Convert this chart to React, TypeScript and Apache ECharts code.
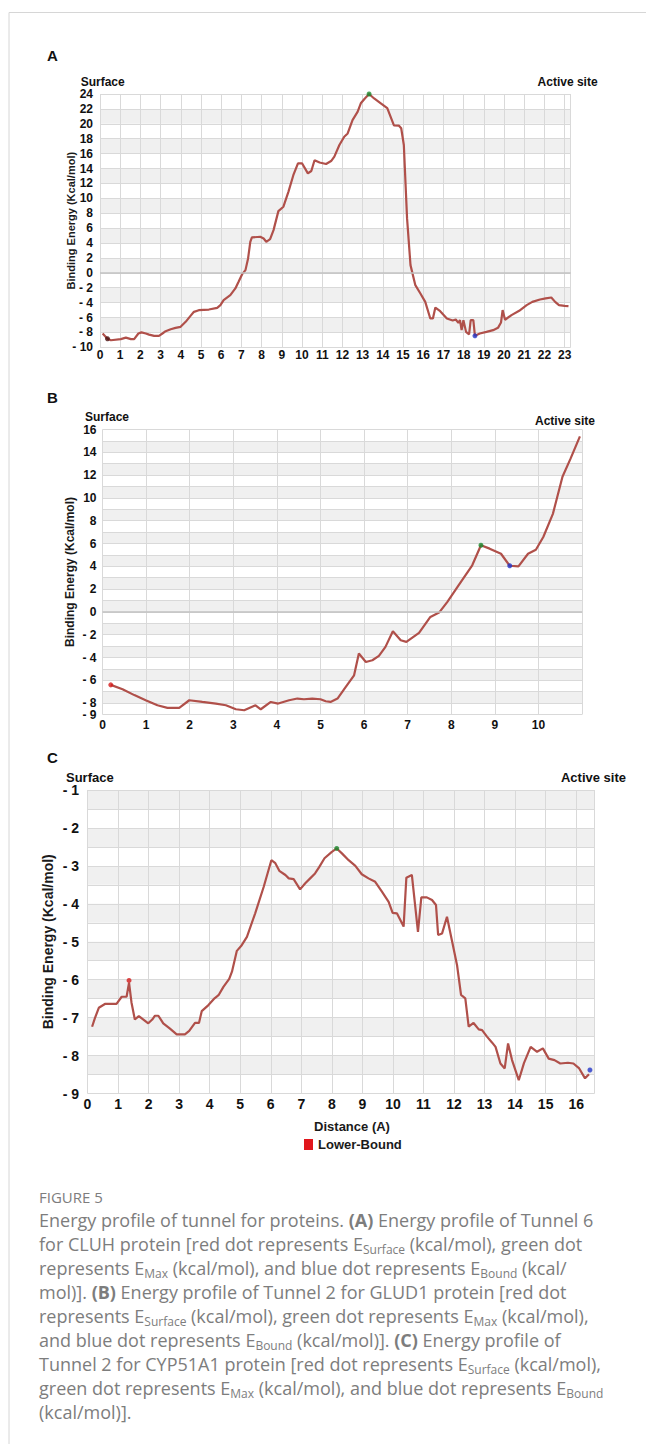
import React, { useEffect, useRef } from "react";
import * as echarts from "echarts";

const FONT = '"Liberation Sans", Arial, Helvetica, sans-serif';
const CAPTION_FONT = '"Open Sans", "Noto Sans", sans-serif';
const LINE_COLOR = "#b0504a";
const GRID_COLOR = "#d9d9d9";
const BAND_COLOR = "#f0f0f0";

// ---------- Panel A : Tunnel 6, CLUH ----------
const tunnelA: number[][] = [
  [0.13, -8.15], [0.37, -8.85], [0.54, -9.05], [1.03, -8.9], [1.28, -8.7], [1.53, -8.9],
  [1.69, -8.9], [1.9, -8.15], [2.05, -8.0], [2.27, -8.15], [2.43, -8.3], [2.68, -8.46],
  [2.92, -8.46], [3.09, -8.15], [3.25, -7.84], [3.5, -7.57], [3.74, -7.39], [3.99, -7.25],
  [4.24, -6.58], [4.48, -5.78], [4.65, -5.24], [4.89, -5.02], [5.39, -4.93], [5.8, -4.7],
  [5.96, -4.34], [6.12, -3.67], [6.45, -3.0], [6.7, -2.1], [6.86, -1.2], [7.03, -0.22],
  [7.2, 0.36], [7.33, 1.93], [7.44, 4.16], [7.52, 4.75], [7.93, 4.84], [8.1, 4.6],
  [8.23, 4.16], [8.42, 4.52], [8.59, 5.73], [8.83, 8.28], [9.08, 8.87], [9.33, 10.9],
  [9.57, 13.1], [9.8, 14.7], [10.0, 14.7], [10.29, 13.35], [10.46, 13.66], [10.62, 15.1],
  [10.87, 14.8], [11.19, 14.6], [11.44, 15.0], [11.6, 15.6], [11.85, 17.15], [12.09, 18.27],
  [12.26, 18.7], [12.5, 20.5], [12.75, 21.6], [12.91, 22.75], [13.11, 23.4], [13.32, 24.0],
  [13.57, 23.4], [13.9, 22.75], [14.22, 22.1], [14.55, 19.8], [14.8, 19.75], [14.91, 19.4],
  [15.04, 17.15], [15.2, 7.3], [15.37, 1.03], [15.61, -1.66], [15.86, -2.78], [16.1, -3.9],
  [16.35, -6.13], [16.48, -6.13], [16.6, -4.66], [16.84, -5.15], [17.17, -6.13], [17.46, -6.4],
  [17.61, -6.27], [17.74, -6.72], [17.82, -6.36], [17.9, -7.7], [17.99, -6.36], [18.12, -7.93],
  [18.27, -8.28], [18.35, -6.36], [18.48, -6.36], [18.56, -8.46], [18.8, -8.15], [19.13, -7.93],
  [19.46, -7.7], [19.7, -7.39], [19.85, -6.67], [19.93, -5.0], [20.05, -6.3], [20.37, -5.68],
  [20.75, -5.1], [21.12, -4.34], [21.4, -3.9], [21.78, -3.58], [22.06, -3.44], [22.34, -3.31],
  [22.53, -3.9], [22.72, -4.34], [23.0, -4.43], [23.19, -4.47],
];
const dotsA: number[][] = [[0.37, -8.85], [13.32, 24.0], [18.56, -8.46]];

// ---------- Panel B : Tunnel 2, GLUD1 ----------
const tunnelB: number[][] = [
  [0.19, -6.4], [0.46, -6.78], [0.73, -7.3], [0.99, -7.75], [1.26, -8.19], [1.49, -8.42],
  [1.76, -8.42], [1.99, -7.75], [2.29, -7.9], [2.6, -8.04], [2.83, -8.19], [3.06, -8.54],
  [3.25, -8.63], [3.51, -8.19], [3.63, -8.54], [3.86, -7.9], [4.03, -8.04], [4.28, -7.75],
  [4.47, -7.6], [4.62, -7.66], [4.81, -7.6], [5.0, -7.66], [5.12, -7.84], [5.23, -7.9],
  [5.39, -7.6], [5.58, -6.58], [5.77, -5.56], [5.88, -3.65], [6.04, -4.39], [6.19, -4.24],
  [6.34, -3.86], [6.49, -3.07], [6.66, -1.7], [6.84, -2.49], [6.97, -2.63], [7.26, -1.84],
  [7.52, -0.44], [7.72, -0.06], [7.91, 0.88], [8.17, 2.34], [8.48, 4.09], [8.68, 5.85],
  [8.88, 5.55], [9.14, 5.1], [9.34, 4.05], [9.54, 4.0], [9.76, 5.1], [9.94, 5.45],
  [10.11, 6.57], [10.33, 8.6], [10.55, 11.85], [10.73, 13.4], [10.95, 15.4],
];
const dotsB: number[][] = [[0.19, -6.4], [8.68, 5.85], [9.34, 4.05]];

// ---------- Panel C : Tunnel 2, CYP51A1 ----------
const tunnelC: number[][] = [
  [0.15, -7.24], [0.24, -7.02], [0.37, -6.74], [0.57, -6.64], [0.95, -6.64], [1.12, -6.45],
  [1.28, -6.45], [1.36, -6.08], [1.44, -6.6], [1.55, -7.05], [1.68, -6.96], [1.83, -7.05],
  [1.99, -7.15], [2.12, -7.05], [2.21, -6.95], [2.32, -6.95], [2.48, -7.15], [2.7, -7.29],
  [2.92, -7.44], [3.19, -7.44], [3.33, -7.35], [3.52, -7.14], [3.65, -7.14], [3.74, -6.83],
  [3.96, -6.67], [4.16, -6.49], [4.29, -6.41], [4.45, -6.19], [4.64, -5.98], [4.73, -5.79],
  [4.89, -5.24], [5.05, -5.09], [5.22, -4.87], [5.49, -4.25], [5.77, -3.55], [6.02, -2.85],
  [6.15, -2.93], [6.28, -3.13], [6.48, -3.24], [6.59, -3.33], [6.75, -3.35], [6.96, -3.62],
  [7.13, -3.46], [7.29, -3.33], [7.45, -3.2], [7.58, -3.04], [7.76, -2.8], [8.0, -2.63],
  [8.16, -2.54], [8.33, -2.67], [8.55, -2.85], [8.77, -3.0], [8.98, -3.22], [9.2, -3.33],
  [9.42, -3.42], [9.64, -3.68], [9.86, -3.95], [9.99, -4.24], [10.13, -4.25], [10.35, -4.6],
  [10.44, -3.31], [10.62, -3.24], [10.82, -4.74], [10.93, -3.83], [11.11, -3.83], [11.28, -3.9],
  [11.41, -4.03], [11.48, -4.82], [11.61, -4.78], [11.77, -4.34], [11.93, -4.96], [12.1, -5.62],
  [12.23, -6.4], [12.37, -6.49], [12.48, -7.24], [12.64, -7.14], [12.81, -7.31], [12.92, -7.33],
  [13.08, -7.5], [13.25, -7.66], [13.36, -7.77], [13.52, -8.21], [13.66, -8.34], [13.77, -7.68],
  [13.9, -8.12], [14.12, -8.65], [14.29, -8.2], [14.51, -7.77], [14.72, -7.9], [14.91, -7.81],
  [15.1, -8.08], [15.29, -8.12], [15.48, -8.21], [15.73, -8.19], [15.91, -8.21], [16.1, -8.34],
  [16.29, -8.6], [16.42, -8.49],
];
const dotsC: number[][] = [[1.36, -6.02], [8.16, -2.54], [16.45, -8.38]];

const dotColors = ["#d41a1a", "#1b8a2e", "#2336c8"];
const dotColorsA = ["#4a1212", "#1b8a2e", "#2336c8"];

// axis ranges / ticks
const xMaxA = 23.3, xMaxB = 11, xMaxC = 16.6;
const xLastLabelA = 23, xLastLabelB = 10, xLastLabelC = 16;

const captionTitle = "FIGURE 5";
const captionLines = [
  "{t|Energy profile of tunnel for proteins. }{b|(A)}{t| Energy profile of Tunnel 6}",
  "{t|for CLUH protein [red dot represents E}{s|Surface}{t| (kcal/mol), green dot}",
  "{t|represents E}{s|Max}{t| (kcal/mol), and blue dot represents E}{s|Bound}{t| (kcal/}",
  "{t|mol)]. }{b|(B)}{t| Energy profile of Tunnel 2 for GLUD1 protein [red dot}",
  "{t|represents E}{s|Surface}{t| (kcal/mol), green dot represents E}{s|Max}{t| (kcal/mol),}",
  "{t|and blue dot represents E}{s|Bound}{t| (kcal/mol)]. }{b|(C)}{t| Energy profile of}",
  "{t|Tunnel 2 for CYP51A1 protein [red dot represents E}{s|Surface}{t| (kcal/mol),}",
  "{t|green dot represents E}{s|Max}{t| (kcal/mol), and blue dot represents E}{s|Bound}",
  "{t|(kcal/mol)].}",
];

const fmtY = (v: number) => (v < 0 ? "- " + Math.abs(v) : String(v));

function xAxisFor(i: number, max: number, fontSize: number, margin: number, last: number, extra: any = {}) {
  return {
    type: "value",
    gridIndex: i,
    min: 0,
    max,
    interval: 1,
    axisLine: { show: false },
    axisTick: { show: false },
    splitLine: { show: true, lineStyle: { color: GRID_COLOR, width: 1 } },
    axisLabel: {
      margin,
      fontSize,
      fontWeight: "bold",
      fontFamily: FONT,
      color: "#111",
      showMinLabel: true,
      showMaxLabel: true,
      hideOverlap: false,
      formatter: (v: number) => (Number.isInteger(v) && v <= last ? String(v) : ""),
    },
    ...extra,
  };
}

function yAxisFor(
  i: number, min: number, max: number, interval: number, fontSize: number, margin: number,
  nameGap: number, nameSize: number, show: (v: number) => boolean, showMin: boolean = true
) {
  return {
    type: "value",
    gridIndex: i,
    min,
    max,
    interval,
    name: "Binding Energy (Kcal/mol)",
    nameLocation: "middle",
    nameRotate: 90,
    nameGap,
    nameMoveOverlap: false,
    nameTextStyle: { fontSize: nameSize, fontWeight: "bold", fontFamily: FONT, color: "#1a1a1a" },
    axisLine: { show: false },
    axisTick: { show: false },
    splitLine: { show: true, lineStyle: { color: GRID_COLOR, width: 1 } },
    splitArea: { show: true, areaStyle: { color: ["rgba(255,255,255,0)", BAND_COLOR] } },
    axisLabel: {
      margin,
      fontSize,
      fontWeight: "bold",
      fontFamily: FONT,
      color: "#111",
      showMinLabel: showMin,
      showMaxLabel: true,
      hideOverlap: false,
      formatter: (v: number) => (show(v) ? fmtY(v) : ""),
    },
  };
}

// extra label-only axis for panel B's bottom "- 9" tick (kept apart so "- 8" is not dropped)
const bottomLabelAxisB = {
  type: "value",
  gridIndex: 1,
  position: "left",
  min: -9,
  max: 16,
  interval: 1,
  axisLine: { show: false },
  axisTick: { show: false },
  splitLine: { show: false },
  splitArea: { show: false },
  axisLabel: {
    margin: 6,
    fontSize: 12,
    fontWeight: "bold",
    fontFamily: FONT,
    color: "#111",
    showMinLabel: true,
    showMaxLabel: false,
    hideOverlap: false,
    formatter: (v: number) => (v === -9 ? fmtY(v) : ""),
  },
};

function lineSeries(i: number, data: number[][], zero: boolean) {
  return {
    type: "line",
    name: "Lower-Bound",
    xAxisIndex: i,
    yAxisIndex: i,
    data,
    showSymbol: false,
    symbol: "none",
    smooth: false,
    silent: true,
    z: 3,
    lineStyle: { color: LINE_COLOR, width: 2.2 },
    itemStyle: { color: LINE_COLOR },
    markLine: zero
      ? {
          silent: true,
          symbol: ["none", "none"],
          label: { show: false },
          lineStyle: { color: "#c2c2c2", width: 1.5, type: "solid" },
          data: [{ yAxis: 0 }],
        }
      : undefined,
  };
}

function dotSeries(i: number, dots: number[][], colors: string[]) {
  return {
    type: "scatter",
    name: "Energy points",
    xAxisIndex: i,
    yAxisIndex: i,
    symbolSize: 5,
    silent: true,
    z: 5,
    data: dots.map((d, k) => ({ value: d, itemStyle: { color: colors[k] } })),
  };
}

function label(text: string, x: number, y: number, size: number, align: string = "left") {
  return {
    type: "text",
    silent: true,
    style: {
      text,
      x,
      y,
      fontSize: size,
      fontWeight: "bold",
      fontFamily: FONT,
      fill: "#111",
      align,
      textAlign: align,
      verticalAlign: "middle",
      textVerticalAlign: "middle",
    },
  };
}

const CAP_SIZE = 18;
const CAP_COLOR = "#7d7d7d";

function buildOption() {
  return {
    animation: false,
    backgroundColor: "#ffffff",
    grid: [
      { left: 100, top: 94, width: 470.7, height: 253.3, outerBoundsMode: "none" },
      { left: 102.5, top: 429.5, width: 479.6, height: 285, outerBoundsMode: "none" },
      { left: 87.5, top: 790, width: 507, height: 303.5, outerBoundsMode: "none" },
    ],
    xAxis: [
      xAxisFor(0, xMaxA, 12, 2, xLastLabelA),
      xAxisFor(1, xMaxB, 12, 4.5, xLastLabelB),
      xAxisFor(2, xMaxC, 14, 3, xLastLabelC, {
        name: "Distance (A)",
        nameLocation: "middle",
        nameGap: 26,
        nameMoveOverlap: false,
        nameTextStyle: {
          fontSize: 13,
          fontWeight: "bold",
          fontFamily: FONT,
          color: "#1a1a1a",
          padding: [0, 0, 0, 22],
        },
      }),
    ],
    yAxis: [
      yAxisFor(0, -10, 24, 2, 12, 7, 23.5, 11, () => true),
      yAxisFor(1, -9, 16, 1, 12, 6, 27, 12, (v) => v % 2 === 0, false),
      yAxisFor(2, -9, -1, 0.5, 14, 8.5, 33, 14, (v) => Number.isInteger(v)),
      bottomLabelAxisB,
    ],
    legend: {
      data: [{ name: "Lower-Bound", icon: "rect", itemStyle: { color: "#e1161c" } }],
      left: 299,
      top: 1133,
      itemWidth: 9,
      itemHeight: 11,
      selectedMode: false,
      textStyle: { fontSize: 13, fontWeight: "bold", fontFamily: FONT, color: "#1a1a1a" },
    },
    series: [
      lineSeries(0, tunnelA, true),
      dotSeries(0, dotsA, dotColorsA),
      lineSeries(1, tunnelB, true),
      dotSeries(1, dotsB, dotColors),
      lineSeries(2, tunnelC, false),
      dotSeries(2, dotsC, dotColors),
    ],
    graphic: [
      {
        type: "line",
        silent: true,
        shape: { x1: 9, y1: 12.5, x2: 646, y2: 12.5 },
        style: { stroke: "#d6d6d6", lineWidth: 1 },
      },
      {
        type: "line",
        silent: true,
        shape: { x1: 9, y1: 12.5, x2: 9, y2: 1444 },
        style: { stroke: "#d6d6d6", lineWidth: 1 },
      },
      label("A", 47, 55, 15),
      label("B", 47, 397, 15),
      label("C", 47, 757, 15),
      label("Surface", 80.7, 82, 12),
      label("Active site", 597.6, 82, 12, "right"),
      label("Surface", 85, 417, 12),
      label("Active site", 595, 421, 12, "right"),
      label("Surface", 66, 777, 13),
      label("Active site", 626, 777, 13, "right"),
      {
        type: "text",
        silent: true,
        style: {
          text: captionTitle,
          x: 39,
          y: 1197,
          fontSize: 15,
          fontFamily: CAPTION_FONT,
          fill: CAP_COLOR,
          align: "left",
          textAlign: "left",
          verticalAlign: "middle",
          textVerticalAlign: "middle",
        },
      },
      {
        type: "text",
        silent: true,
        style: {
          text: captionLines.join("\n"),
          x: 39,
          y: 1208,
          align: "left",
          textAlign: "left",
          verticalAlign: "top",
          textVerticalAlign: "top",
          fontFamily: CAPTION_FONT,
          fontSize: CAP_SIZE,
          fill: CAP_COLOR,
          rich: {
            t: { fontSize: CAP_SIZE, fontFamily: CAPTION_FONT, color: CAP_COLOR, lineHeight: 24, verticalAlign: "middle" },
            b: { fontSize: CAP_SIZE, fontFamily: CAPTION_FONT, fontWeight: "bold", color: "#5e5e5e", lineHeight: 24, verticalAlign: "middle" },
            s: { fontSize: 12, fontFamily: CAPTION_FONT, color: CAP_COLOR, lineHeight: 13, verticalAlign: "bottom", padding: [0, 0, 1, 0] },
          },
        },
      },
    ],
  };
}

export default function App() {
  const ref = useRef<HTMLDivElement>(null);
  useEffect(() => {
    if (!ref.current) return;
    const chart = echarts.init(ref.current, null, { renderer: "svg" });
    chart.setOption(buildOption() as any);
    return () => {
      chart.dispose();
    };
  }, []);
  return (
    <div
      ref={ref}
      style={{ position: "absolute", left: 0, top: 0, width: 646, height: 1444, background: "#fff" }}
    />
  );
}
